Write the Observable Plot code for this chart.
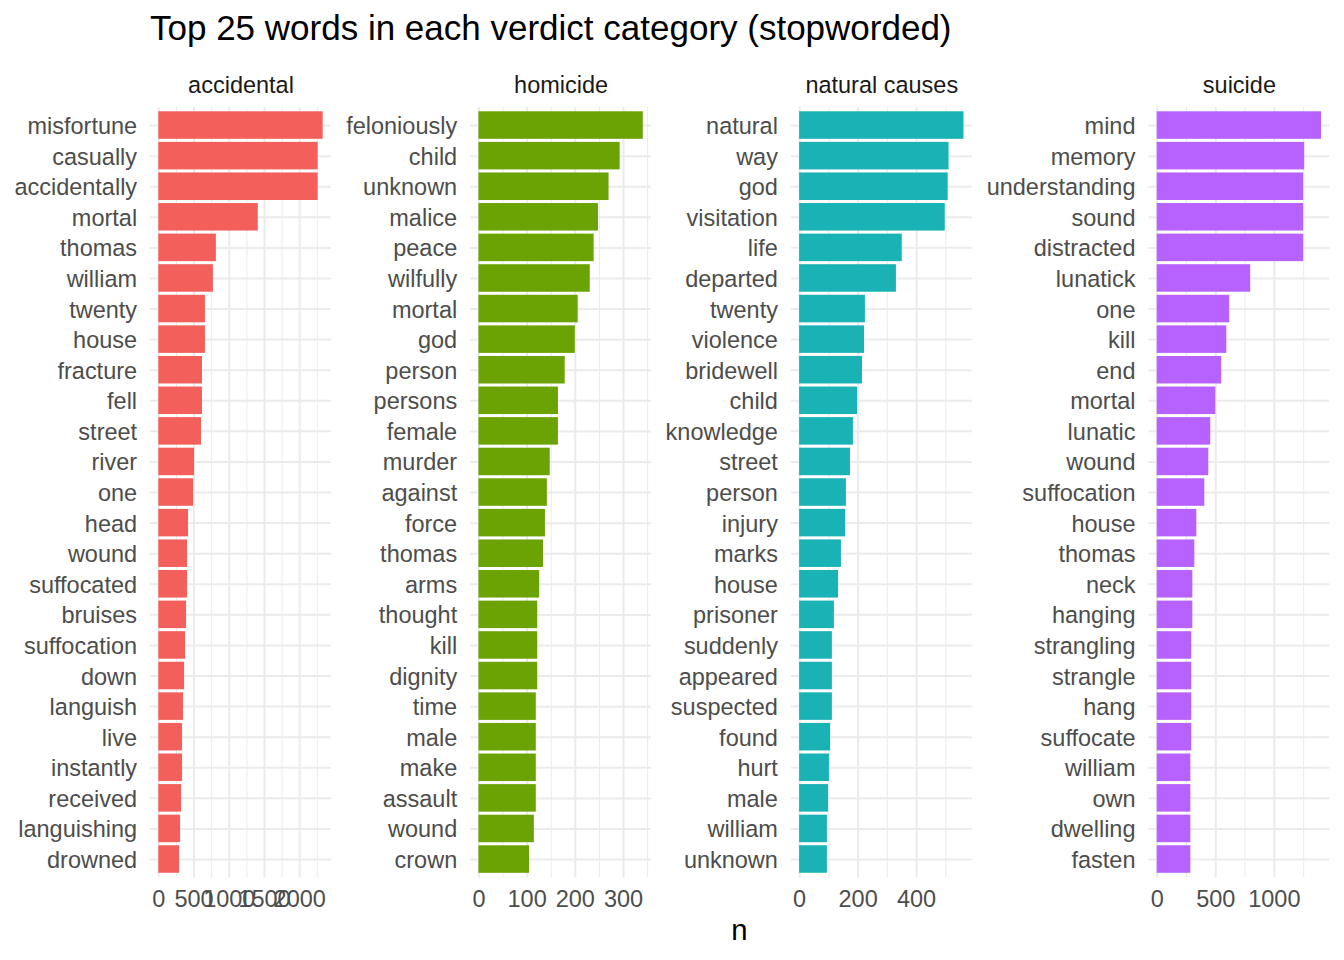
<!DOCTYPE html>
<html>
<head>
<meta charset="utf-8">
<script src="https://cdn.jsdelivr.net/npm/d3@7"></script>
<script src="https://cdn.jsdelivr.net/npm/@observablehq/plot@0.6"></script>
<style>
  body { margin: 0; background: #fff; }
  #chart { position: relative; width: 1344px; height: 960px; overflow: hidden;
           font-family: "Liberation Sans", Arial, Helvetica, sans-serif; }
  #title { position: absolute; left: 150px; top: 10.4px; font-size: 35px; line-height: 35px;
           color: #000; white-space: nowrap; }
  #xlab { position: absolute; left: 150.1px; width: 1178.8px; top: 915px; font-size: 29.3px;
          line-height: 29.3px; color: #000; text-align: center; }
  #chart svg { position: absolute; overflow: visible; }
</style>
</head>
<body>
<div id="chart">
  <div id="title">Top 25 words in each verdict category (stopworded)</div>
  <div id="xlab">n</div>
</div>
<script>
// ---- data ----
const categories = ["accidental", "homicide", "natural causes", "suicide"];
const colors = ["#F35F5B", "#6BA304", "#19B3B6", "#B762FE"];

const accidentalWords = ["misfortune","casually","accidentally","mortal","thomas","william","twenty","house","fracture","fell","street","river","one","head","wound","suffocated","bruises","suffocation","down","languish","live","instantly","received","languishing","drowned"];
const accidentalN = [2333,2262,2262,1412,817,775,662,662,620,620,606,507,493,422,408,408,394,380,366,351,337,337,323,309,295];

const homicideWords = ["feloniously","child","unknown","malice","peace","wilfully","mortal","god","person","persons","female","murder","against","force","thomas","arms","thought","kill","dignity","time","male","make","assault","wound","crown"];
const homicideN = [341,293,270,248,239,231,206,200,179,165,165,148,142,138,134,126,122,122,122,119,119,119,119,115,105];

const naturalWords = ["natural","way","god","visitation","life","departed","twenty","violence","bridewell","child","knowledge","street","person","injury","marks","house","prisoner","suddenly","appeared","suspected","found","hurt","male","william","unknown"];
const naturalN = [562,511,508,498,351,331,225,222,215,198,184,174,160,157,143,133,119,112,112,112,106,102,99,95,95];

const suicideWords = ["mind","memory","understanding","sound","distracted","lunatick","one","kill","end","mortal","lunatic","wound","suffocation","house","thomas","neck","hanging","strangling","strangle","hang","suffocate","william","own","dwelling","fasten"];
const suicideN = [1403,1259,1250,1250,1250,798,619,594,551,500,457,440,406,338,321,304,304,295,295,295,295,287,287,287,287];

const accidentalTicks = [0, 500, 1000, 1500, 2000];
const accidentalMinor = [250, 750, 1250, 1750, 2250];
const homicideTicks = [0, 100, 200, 300];
const homicideMinor = [50, 150, 250, 350];
const naturalTicks = [0, 200, 400];
const naturalMinor = [100, 300, 500];
const suicideTicks = [0, 500, 1000];
const suicideMinor = [250, 750, 1250];

// ---- layout ----
const panelLefts = [150.1, 470.1, 790.8, 1148.1];
const panelWidth = 180.8;
const svgTop = 60;
const svgHeight = 880;
const panelTop = 106.7;
const panelBottom = 877.4;
const FONT = '"Liberation Sans", Arial, Helvetica, sans-serif';
const GRID = "#EBEBEB";

const panels = [
  {name: categories[0], words: accidentalWords, values: accidentalN, ticks: accidentalTicks, minor: accidentalMinor, color: colors[0]},
  {name: categories[1], words: homicideWords, values: homicideN, ticks: homicideTicks, minor: homicideMinor, color: colors[1]},
  {name: categories[2], words: naturalWords, values: naturalN, ticks: naturalTicks, minor: naturalMinor, color: colors[2]},
  {name: categories[3], words: suicideWords, values: suicideN, ticks: suicideTicks, minor: suicideMinor, color: colors[3]}
];

const chart = document.getElementById("chart");

panels.forEach((p, i) => {
  const left = i === 0 ? 0 : panelLefts[i - 1] + panelWidth;
  const marginLeft = panelLefts[i] - left;
  const marginRight = i === 3 ? 1344 - (panelLefts[i] + panelWidth) : 0;
  const data = p.words.map((w, j) => ({word: w, n: p.values[j]}));
  const max = d3.max(p.values);
  const svg = Plot.plot({
    width: marginLeft + panelWidth + marginRight,
    height: svgHeight,
    marginLeft,
    marginRight,
    marginTop: panelTop - svgTop,
    marginBottom: svgTop + svgHeight - panelBottom,
    style: {fontFamily: FONT, fontSize: "23.5px", color: "#4D4D4D", background: "transparent", overflow: "visible"},
    x: {domain: [-0.05 * max, 1.05 * max]},
    y: {domain: p.words, paddingInner: 0.1, paddingOuter: 0.15, align: 0.5, round: false},
    marks: [
      Plot.ruleX(p.minor, {stroke: GRID, strokeWidth: 1, strokeOpacity: 1}),
      Plot.ruleX(p.ticks, {stroke: GRID, strokeWidth: 2, strokeOpacity: 1}),
      Plot.ruleY(p.words, {y: d => d, stroke: GRID, strokeWidth: 2, strokeOpacity: 1}),
      Plot.barX(data, {x: "n", y: "word", fill: p.color}),
      Plot.axisX(p.ticks, {anchor: "bottom", tickSize: 0, tickPadding: 12.6, label: null,
        tickFormat: d => String(d), fontSize: 23.5, fill: "#4D4D4D"}),
      Plot.axisY({anchor: "left", tickSize: 0, tickPadding: 13.5, label: null, fontSize: 23.5,
        fill: "#4D4D4D", dy: 1}),
      Plot.text([p.name], {frameAnchor: "top", dy: -22, lineAnchor: "middle", fontSize: 23.5,
        fill: "#1A1A1A", text: d => d})
    ]
  });
  svg.style.left = left + "px";
  svg.style.top = svgTop + "px";
  chart.appendChild(svg);
});
</script>
</body>
</html>
